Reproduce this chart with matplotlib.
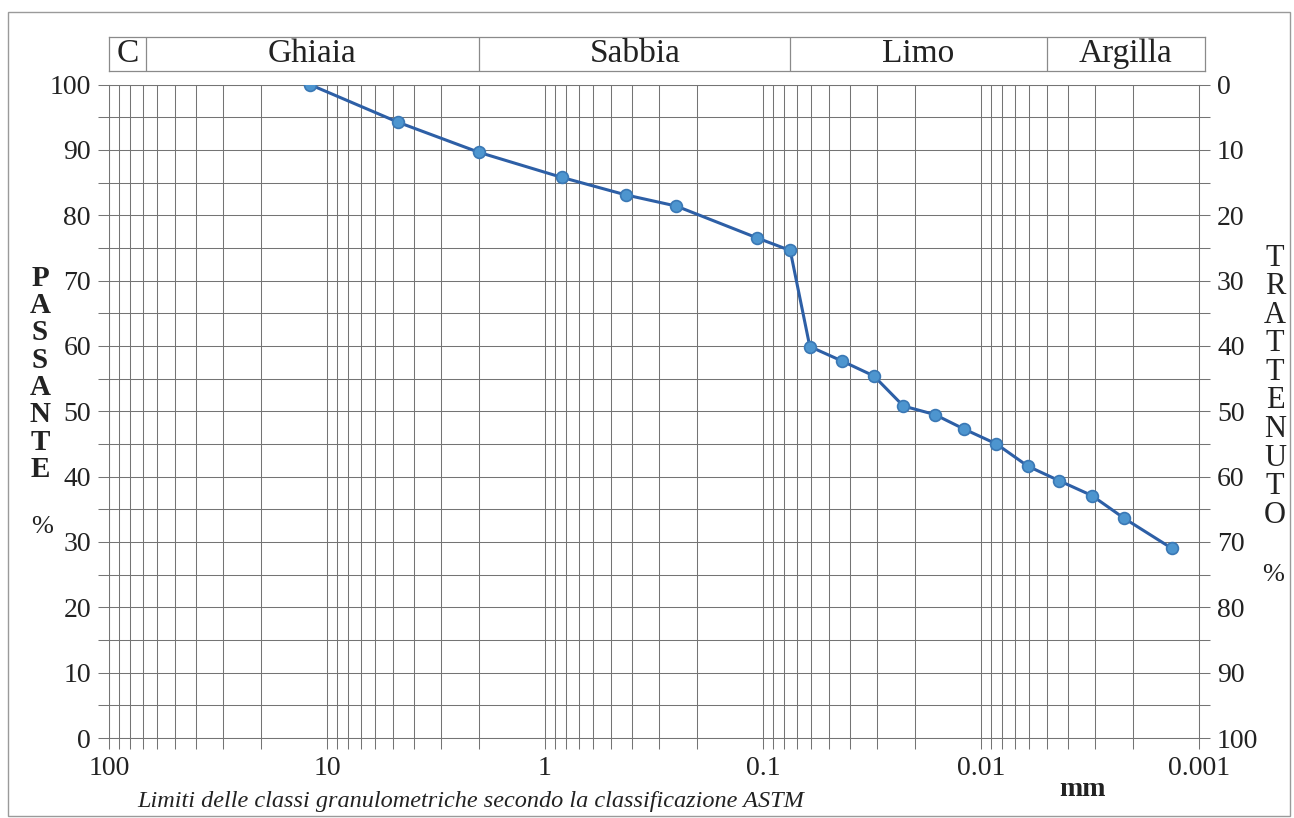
import numpy as np
import matplotlib
matplotlib.use('Agg')
import matplotlib.pyplot as plt
from matplotlib.ticker import FixedLocator, LogLocator, MultipleLocator, NullFormatter
from matplotlib.patches import Rectangle

plt.rcParams['font.family'] = ['Liberation Serif', 'DejaVu Serif']

# curva granulometrica: diametro (mm) e percentuale passante
diametro = [12, 4.7, 2.0, 0.84, 0.425, 0.25, 0.106, 0.075, 0.061, 0.0435,
            0.031, 0.0227, 0.0163, 0.012, 0.0085, 0.0061, 0.0044, 0.0031,
            0.0022, 0.00133]
passante = [100, 94.2, 89.6, 85.8, 83.1, 81.4, 76.5, 74.6, 59.9, 57.7,
            55.4, 50.8, 49.5, 47.3, 45.0, 41.6, 39.4, 37.1, 33.6, 29.0]

# limiti delle classi ASTM (mm) e nomi
limiti_classi = [68, 2.0, 0.075, 0.005]
nomi_classi = ['C', 'Ghiaia', 'Sabbia', 'Limo', 'Argilla']

x_ticks = [100, 10, 1, 0.1, 0.01, 0.001]
x_labels = ['100', '10', '1', '0.1', '0.01', '0.001']
y_ticks = list(range(0, 101, 10))

W, H = 1294, 818
GRID = '#747474'
TXT = '#222222'


def box(x0, y0, x1, y1):
    return [x0 / W, 1 - y1 / H, (x1 - x0) / W, (y1 - y0) / H]


fig = plt.figure(figsize=(W / 100, H / 100), dpi=100)
fig.patch.set_facecolor('white')

ax = fig.add_axes(box(109, 84.5, 1199, 738))
ax.set_xscale('log')
ax.set_xlim(100, 0.001)
ax.set_ylim(0, 100)
ax.xaxis.set_major_locator(FixedLocator(x_ticks))
ax.set_xticklabels(x_labels)
ax.xaxis.set_minor_locator(LogLocator(base=10, subs=np.arange(2, 10), numticks=20))
ax.xaxis.set_minor_formatter(NullFormatter())
ax.yaxis.set_major_locator(FixedLocator(y_ticks))
ax.yaxis.set_minor_locator(MultipleLocator(5))
ax.grid(which='both', color=GRID, lw=0.75)
ax.tick_params(which='both', direction='out', length=8, width=0.75, color=GRID,
               labelsize=20, labelcolor=TXT, pad=5)
for s in ax.spines.values():
    s.set_color(GRID)
    s.set_linewidth(0.75)

ax2 = ax.twinx()
ax2.set_ylim(100, 0)
ax2.yaxis.set_major_locator(FixedLocator(y_ticks))
ax2.yaxis.set_minor_locator(MultipleLocator(5))
ax2.tick_params(which='both', direction='out', length=8, width=0.75, color=GRID,
                labelsize=20, labelcolor=TXT, pad=5)
for s in ax2.spines.values():
    s.set_visible(False)

ax.plot(diametro, passante, color='#2d5fa6', lw=2.2, marker='o', ms=8.5,
        markerfacecolor='#4d95cf', markeredgecolor='#3a78b5', mew=1.2, zorder=5)

# intestazione con le classi granulometriche
decade = (1199 - 109) / 5
hax = fig.add_axes(box(109, 37, 1205, 71))
hax.set_xscale('log')
hax.set_xlim(100, 0.001 / 10 ** ((1205 - 1199) / decade))
hax.set_ylim(0, 1)
hax.set_xticks([])
hax.set_yticks([])
hax.xaxis.set_minor_locator(FixedLocator([]))
for s in hax.spines.values():
    s.set_color('#8a8a8a')
    s.set_linewidth(0.9)
for lim in limiti_classi:
    hax.axvline(lim, color='#8a8a8a', lw=0.9)
bordi = [hax.get_xlim()[0]] + limiti_classi + [hax.get_xlim()[1]]
for nome, a, b in zip(nomi_classi, bordi[:-1], bordi[1:]):
    hax.text(np.sqrt(a * b), 0.52, nome, ha='center', va='center',
             fontsize=24, color=TXT)

# titoli degli assi verticali, lettera per lettera
for i, ch in enumerate('PASSANTE'):
    fig.text(40 / W, 1 - (278 + i * 27.4) / H, ch, ha='center', va='center',
             fontsize=21, weight='bold', color=TXT)
fig.text(42 / W, 1 - 527 / H, '%', ha='center', va='center', fontsize=19, color=TXT)
for i, ch in enumerate('TRATTENUTO'):
    fig.text(1275 / W, 1 - (258 + i * 28.6) / H, ch, ha='center', va='center',
             fontsize=22, color=TXT)
fig.text(1273 / W, 1 - 575 / H, '%', ha='center', va='center', fontsize=19, color=TXT)

fig.text(1083 / W, 1 - 790 / H, 'mm', ha='center', va='center', fontsize=20,
         weight='bold', color=TXT)
fig.text(471 / W, 1 - 802 / H,
         'Limiti delle classi granulometriche secondo la classificazione ASTM',
         ha='center', va='center', fontsize=17.5, style='italic', color=TXT)

fig.patches.append(Rectangle((8 / W, 2 / H), 1282 / W, 804 / H,
                             transform=fig.transFigure, fill=False,
                             ec='#9a9a9a', lw=1))

fig.savefig('out.png', dpi=100)
